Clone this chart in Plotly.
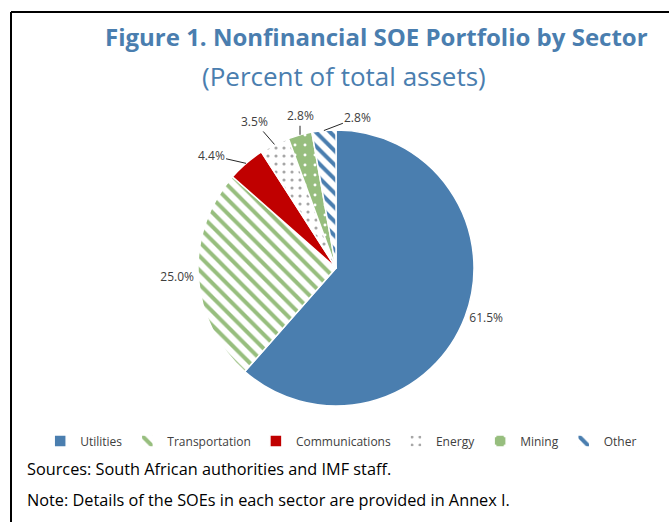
import math
import plotly.graph_objects as go

sectors = ["Utilities", "Transportation", "Communications", "Energy", "Mining", "Other"]
shares = [61.5, 25.0, 4.4, 3.5, 2.8, 2.8]
label_text = ["61.5%", "25.0%", "4.4%", "3.5%", "2.8%", "2.8%"]

BLUE = "#4A7EAF"
GREEN = "#97BE7E"
RED = "#C00000"
GRAY = "#A6A6A6"
TXT = "#404040"

fill_colors = [BLUE, "white", RED, "white", GREEN, "white"]
pattern_shapes = ["", "\\", "", ".", ".", "\\"]
pattern_fg = [BLUE, GREEN, RED, GRAY, "white", BLUE]
pattern_bg = [BLUE, "white", RED, "white", GREEN, "white"]
pattern_size = [10, 10, 10, 8, 10, 10]
pattern_solid = [0.4, 0.4, 0.4, 0.12, 0.07, 0.4]

# big slices use the library's outside labels; small ones use leader lines
text_pos = ["outside", "outside", "none", "none", "none", "none"]
# leader-label offsets (px) from the slice edge, for the small slices
label_offsets = {2: (-35, -8), 3: (-20, -23), 4: (0, -19), 5: (34, -13)}

W, H = 669, 522
CX, CY, R = 336, 268, 138
FONT = "Open Sans"

fig = go.Figure()
fig.add_trace(go.Pie(
    labels=sectors,
    values=shares,
    text=label_text,
    textinfo="text",
    textposition=text_pos,
    sort=False,
    direction="clockwise",
    rotation=0,
    marker=dict(
        colors=fill_colors,
        line=dict(color="white", width=1.5),
        pattern=dict(shape=pattern_shapes, fgcolor=pattern_fg, bgcolor=pattern_bg,
                     size=pattern_size, solidity=pattern_solid, fillmode="replace"),
    ),
    outsidetextfont=dict(family=FONT, size=12, color=TXT),
    domain=dict(x=[(CX - R) / W, (CX + R) / W], y=[1 - (CY + R) / H, 1 - (CY - R) / H]),
    automargin=False,
    showlegend=True,
    hoverinfo="label+percent",
))

annotations = [
    dict(text="<b>Figure 1. Nonfinancial SOE Portfolio by Sector</b>", xref="paper", yref="paper",
         x=376 / W, y=1 - 36 / H, xanchor="center", yanchor="middle", showarrow=False,
         font=dict(family=FONT, size=24, color=BLUE)),
    dict(text="(Percent of total assets)", xref="paper", yref="paper",
         x=344 / W, y=1 - 76 / H, xanchor="center", yanchor="middle", showarrow=False,
         font=dict(family=FONT, size=26, color=BLUE)),
    dict(text="Sources: South African authorities and IMF staff.", xref="paper", yref="paper",
         x=25 / W, y=1 - 469 / H, xanchor="left", yanchor="middle", showarrow=False,
         font=dict(family=FONT, size=16.3, color="black")),
    dict(text="Note: Details of the SOEs in each sector are provided in Annex I.", xref="paper", yref="paper",
         x=25 / W, y=1 - 500 / H, xanchor="left", yanchor="middle", showarrow=False,
         font=dict(family=FONT, size=16.3, color="black")),
]

total = sum(shares)
cum = 0.0
for i, v in enumerate(shares):
    mid = (cum + v / 2) / total
    cum += v
    if i not in label_offsets:
        continue
    th = 2 * math.pi * mid
    ex = CX + R * math.sin(th)
    ey = CY - R * math.cos(th)
    ax, ay = label_offsets[i]
    annotations.append(dict(
        text=label_text[i], xref="paper", yref="paper", x=ex / W, y=1 - ey / H,
        showarrow=True, arrowhead=0, arrowwidth=1, arrowcolor="#262626", ax=ax, ay=ay,
        standoff=0, font=dict(family=FONT, size=12, color=TXT),
    ))

fig.update_layout(
    width=W, height=H,
    margin=dict(l=0, r=0, t=0, b=0),
    paper_bgcolor="white",
    plot_bgcolor="white",
    font=dict(family=FONT, color=TXT),
    legend=dict(orientation="h", x=0.51, xanchor="center", y=1 - 441 / H, yanchor="middle",
                font=dict(family=FONT, size=12, color=TXT),
                itemwidth=30, traceorder="normal"),
    shapes=[
        dict(type="line", xref="paper", yref="paper", x0=11 / W, x1=11 / W, y0=-0.1, y1=1 - 12 / H,
             line=dict(color="black", width=2)),
        dict(type="line", xref="paper", yref="paper", x0=11 / W, x1=1.1, y0=1 - 12 / H, y1=1 - 12 / H,
             line=dict(color="black", width=2)),
    ],
    annotations=annotations,
)

fig.write_html("out.html", config={"displayModeBar": False},
               post_script="document.body.style.margin='0';")
